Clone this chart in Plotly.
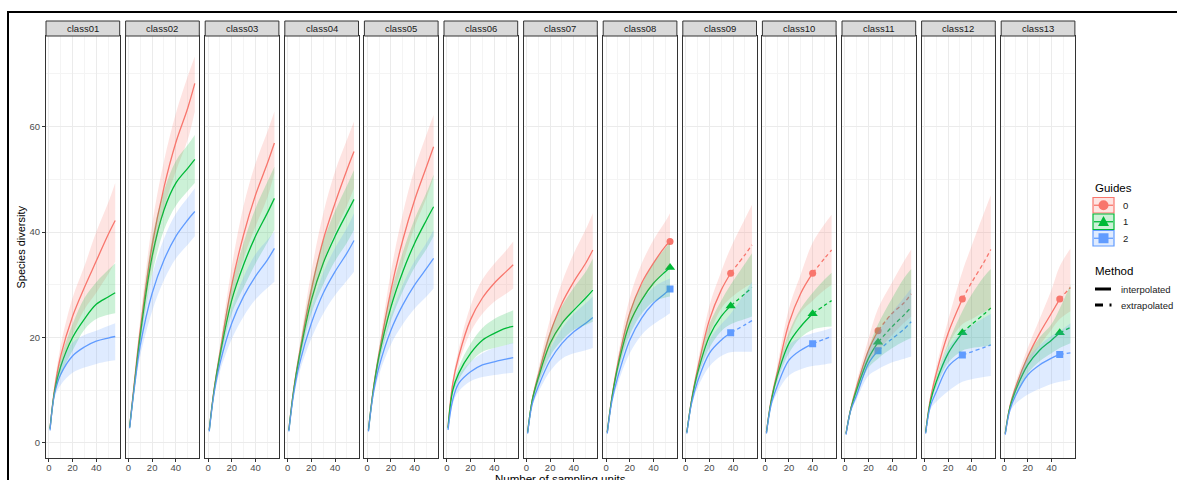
import plotly.graph_objects as go

# ---------------- data ----------------
classes = ["class01", "class02", "class03", "class04", "class05", "class06", "class07",
           "class08", "class09", "class10", "class11", "class12", "class13"]

# reference sample size (observed point); None = no point drawn
obs_T = [None, None, None, None, None, None, None, 54, 38, 40, 28, 32, 47]

# sampling-unit positions where values were read for each class
x_pts = [
    [1, 5, 10, 20, 30, 40, 50, 56],
    [1, 5, 10, 20, 30, 40, 50, 56],
    [1, 5, 10, 20, 30, 40, 50, 56],
    [1, 5, 10, 20, 30, 40, 50, 56],
    [1, 5, 10, 20, 30, 40, 50, 56],
    [1, 5, 10, 20, 30, 40, 50, 56],
    [1, 5, 10, 20, 30, 40, 50, 56],
    [1, 5, 10, 20, 30, 40, 50, 54],
    [1, 5, 10, 20, 30, 38, 50, 56],
    [1, 5, 10, 20, 30, 40, 50, 56],
    [1, 5, 10, 20, 28, 40, 50, 56],
    [1, 5, 10, 20, 32, 40, 50, 56],
    [1, 5, 10, 20, 30, 40, 47, 56],
]

# Guides = 0 (red)
q0_mid = [
    [2.8, 10.5, 16.5, 24.0, 29.5, 34.5, 39.5, 42.2],
    [3.0, 11.5, 21.5, 37.5, 48.5, 57.0, 63.5, 68.2],
    [2.5, 10.0, 17.0, 30.0, 39.5, 47.0, 53.0, 56.9],
    [2.5, 10.0, 17.0, 29.0, 38.5, 45.5, 51.8, 55.3],
    [2.5, 10.0, 17.0, 29.0, 38.5, 46.1, 52.4, 56.2],
    [3.0, 11.3, 16.4, 23.4, 27.5, 30.3, 32.5, 33.8],
    [2.0, 8.3, 12.8, 20.8, 26.5, 30.6, 34.1, 36.6],
    [2.0, 8.8, 15.1, 24.6, 30.3, 34.1, 37.3, 38.2],
    [2.0, 8.2, 13.9, 23.3, 29.0, 32.2, 35.7, 37.6],
    [2.0, 8.2, 13.2, 22.7, 28.4, 32.2, 35.0, 36.6],
    [1.8, 6.5, 10.7, 17.6, 21.3, 24.6, 26.6, 28.3],
    [2.0, 8.3, 13.2, 20.8, 27.3, 30.5, 34.2, 36.7],
    [1.8, 7.0, 10.7, 16.4, 20.8, 24.6, 27.3, 29.5],
]
q0_lo = [
    [2.5, 9.5, 14.5, 20.5, 25.3, 28.5, 32.0, 34.4],
    [2.7, 10.5, 19.5, 34.0, 44.5, 51.5, 57.5, 62.9],
    [2.2, 9.3, 15.8, 27.0, 35.0, 41.0, 46.5, 51.2],
    [2.2, 9.3, 15.8, 26.0, 34.0, 40.0, 45.0, 48.3],
    [2.2, 9.3, 15.8, 26.0, 34.0, 41.0, 46.5, 50.5],
    [2.7, 10.5, 15.0, 21.0, 24.5, 26.8, 28.3, 29.3],
    [1.7, 7.8, 11.5, 18.0, 22.5, 25.5, 27.8, 29.3],
    [1.7, 8.3, 13.8, 21.8, 27.0, 30.0, 32.8, 33.8],
    [1.7, 7.7, 12.7, 20.5, 25.5, 27.5, 29.5, 30.3],
    [1.7, 7.7, 12.0, 20.0, 24.8, 27.0, 29.0, 30.0],
    [1.5, 6.0, 9.8, 15.5, 17.5, 20.5, 22.8, 24.0],
    [1.7, 7.8, 12.0, 18.5, 22.5, 23.5, 24.8, 25.5],
    [1.5, 6.5, 9.8, 14.8, 18.5, 21.5, 23.5, 25.0],
]
q0_hi = [
    [3.1, 11.5, 18.5, 27.5, 33.5, 40.0, 45.5, 49.3],
    [3.3, 12.5, 23.5, 41.5, 53.5, 62.5, 69.5, 73.3],
    [2.8, 10.8, 18.3, 33.5, 45.0, 53.0, 59.0, 62.9],
    [2.8, 10.8, 18.3, 32.5, 43.5, 51.5, 57.5, 61.0],
    [2.8, 10.8, 18.3, 32.5, 43.5, 52.0, 58.5, 62.2],
    [3.3, 12.1, 17.8, 26.0, 31.0, 34.0, 36.5, 38.2],
    [2.3, 8.8, 14.0, 23.5, 30.5, 36.0, 40.5, 43.6],
    [2.3, 9.3, 16.4, 27.5, 34.0, 38.5, 42.0, 43.6],
    [2.3, 8.7, 15.1, 26.0, 32.5, 37.0, 42.5, 45.2],
    [2.3, 8.7, 14.4, 25.5, 32.0, 38.0, 41.5, 43.3],
    [2.1, 7.0, 11.6, 19.8, 25.5, 30.5, 34.5, 36.7],
    [2.3, 8.8, 14.4, 23.3, 32.5, 37.5, 43.5, 47.0],
    [2.1, 7.5, 11.6, 18.0, 23.5, 29.0, 33.5, 36.9],
]

# Guides = 1 (green)
q1_mid = [
    [2.7, 10.0, 14.5, 20.0, 23.5, 26.3, 27.7, 28.5],
    [3.0, 11.0, 20.5, 35.4, 44.2, 49.3, 52.1, 53.8],
    [2.4, 9.8, 16.5, 27.1, 33.8, 39.2, 43.6, 46.4],
    [2.4, 9.8, 16.5, 27.1, 34.1, 39.2, 43.6, 46.2],
    [2.4, 9.8, 16.5, 25.8, 32.5, 37.9, 42.3, 44.8],
    [2.8, 10.0, 13.2, 17.0, 19.5, 20.8, 21.8, 22.1],
    [2.0, 8.2, 12.3, 18.9, 22.7, 25.2, 27.5, 29.0],
    [2.0, 8.6, 14.5, 22.7, 27.1, 30.3, 32.5, 33.3],
    [2.0, 8.0, 13.2, 20.2, 24.0, 26.0, 28.3, 29.5],
    [2.0, 7.9, 12.6, 18.9, 22.1, 24.5, 26.1, 27.0],
    [1.8, 6.4, 10.1, 16.1, 19.1, 22.1, 24.3, 25.7],
    [2.0, 7.8, 11.6, 17.0, 20.9, 22.5, 24.4, 25.6],
    [1.8, 6.8, 10.1, 14.8, 17.6, 19.5, 20.9, 21.9],
]
q1_lo = [
    [2.4, 9.2, 13.0, 17.5, 21.5, 23.5, 24.3, 24.6],
    [2.7, 10.2, 18.8, 32.0, 40.4, 45.0, 47.8, 49.3],
    [2.1, 9.1, 15.2, 24.5, 29.5, 34.0, 38.0, 40.4],
    [2.1, 9.1, 15.2, 24.5, 30.0, 34.5, 38.0, 40.4],
    [2.1, 9.2, 15.2, 23.2, 28.8, 33.3, 36.8, 39.2],
    [2.5, 9.2, 12.0, 15.3, 17.3, 18.0, 18.6, 18.9],
    [1.7, 7.7, 11.2, 16.5, 19.5, 21.5, 22.4, 23.0],
    [1.7, 8.1, 13.4, 20.5, 24.5, 26.8, 27.6, 27.8],
    [1.7, 7.5, 12.2, 18.0, 21.2, 22.5, 23.5, 24.0],
    [1.7, 7.4, 11.6, 17.0, 20.0, 21.5, 22.0, 22.1],
    [1.5, 5.9, 9.2, 14.3, 16.0, 18.0, 19.3, 19.9],
    [1.7, 7.3, 10.6, 15.2, 17.5, 18.0, 18.3, 18.5],
    [1.5, 6.3, 9.2, 13.2, 15.5, 17.0, 18.0, 18.9],
]
q1_hi = [
    [3.0, 10.8, 16.0, 22.5, 27.5, 30.5, 32.8, 34.1],
    [3.3, 11.8, 22.2, 38.8, 47.8, 53.5, 56.5, 58.4],
    [2.7, 10.5, 17.8, 30.0, 38.0, 44.5, 49.5, 52.4],
    [2.7, 10.5, 17.8, 30.0, 38.2, 44.0, 48.8, 51.8],
    [2.7, 10.8, 17.8, 28.5, 36.2, 42.5, 47.5, 50.9],
    [3.1, 10.8, 14.4, 18.8, 21.8, 23.5, 24.6, 25.2],
    [2.3, 8.7, 13.4, 21.3, 26.0, 29.5, 32.5, 35.0],
    [2.3, 9.1, 15.6, 25.0, 30.0, 34.0, 37.0, 38.0],
    [2.3, 8.5, 14.2, 22.5, 27.0, 30.0, 34.0, 36.0],
    [2.3, 8.4, 13.6, 21.0, 25.5, 28.5, 31.0, 32.3],
    [2.1, 6.9, 11.0, 18.0, 22.5, 27.5, 31.3, 33.0],
    [2.3, 8.3, 12.6, 19.0, 25.0, 28.2, 31.5, 33.0],
    [2.1, 7.3, 11.0, 16.5, 20.0, 22.5, 25.5, 30.0],
]

# Guides = 2 (blue)
q2_mid = [
    [2.4, 9.5, 13.0, 16.5, 18.2, 19.3, 19.9, 20.2],
    [2.8, 10.5, 18.5, 28.4, 34.7, 39.2, 42.3, 43.9],
    [2.2, 9.3, 15.0, 22.7, 27.8, 31.6, 34.7, 36.9],
    [2.2, 9.2, 15.0, 22.7, 28.4, 32.5, 36.0, 38.4],
    [2.2, 9.2, 14.5, 21.4, 26.2, 30.0, 33.1, 35.0],
    [2.5, 8.2, 11.3, 13.5, 14.8, 15.4, 15.9, 16.2],
    [1.8, 7.5, 10.7, 15.7, 18.9, 21.1, 22.7, 23.8],
    [1.8, 8.0, 12.6, 19.5, 23.7, 26.5, 28.4, 29.2],
    [1.8, 7.5, 11.6, 17.0, 19.5, 20.9, 22.4, 23.2],
    [1.8, 7.3, 10.7, 15.7, 17.6, 18.8, 19.7, 20.2],
    [1.6, 6.2, 9.1, 15.1, 17.5, 19.8, 21.6, 23.0],
    [1.8, 7.0, 9.7, 14.5, 16.7, 17.3, 18.1, 18.6],
    [1.6, 6.3, 9.1, 12.9, 14.8, 16.1, 16.8, 17.1],
]
q2_lo = [
    [2.1, 8.7, 11.0, 13.3, 14.3, 15.0, 15.5, 15.7],
    [2.5, 9.7, 16.5, 25.0, 30.9, 35.0, 37.6, 39.2],
    [1.9, 8.6, 13.5, 19.7, 24.0, 27.2, 29.4, 30.6],
    [1.9, 8.5, 13.5, 19.8, 24.5, 28.0, 30.8, 32.5],
    [1.9, 8.5, 13.0, 18.7, 22.5, 25.5, 27.8, 29.3],
    [2.2, 7.4, 9.8, 11.7, 12.5, 12.9, 13.2, 13.3],
    [1.5, 7.0, 9.6, 13.6, 16.0, 17.0, 17.6, 18.0],
    [1.5, 7.5, 11.3, 17.0, 20.5, 22.5, 24.0, 24.6],
    [1.5, 7.0, 10.4, 14.5, 16.5, 17.2, 17.3, 17.3],
    [1.5, 6.8, 9.5, 12.8, 14.0, 14.6, 14.9, 15.1],
    [1.3, 5.8, 8.3, 12.8, 14.0, 15.3, 16.0, 16.4],
    [1.5, 6.3, 7.8, 9.8, 11.6, 12.1, 12.5, 12.7],
    [1.3, 5.8, 7.5, 9.2, 10.3, 11.2, 11.6, 12.0],
]
q2_hi = [
    [2.7, 10.3, 14.8, 19.0, 20.5, 21.3, 22.2, 22.7],
    [3.1, 11.3, 20.5, 31.8, 38.8, 43.5, 46.5, 48.3],
    [2.5, 10.0, 16.5, 25.5, 31.5, 35.8, 38.5, 40.1],
    [2.5, 9.9, 16.5, 25.6, 32.3, 37.0, 40.8, 43.6],
    [2.5, 9.9, 16.0, 24.2, 30.0, 34.5, 38.0, 40.4],
    [2.8, 9.0, 12.8, 15.4, 17.0, 18.0, 18.6, 19.0],
    [2.1, 8.0, 11.8, 17.8, 21.7, 24.5, 26.5, 27.8],
    [2.1, 8.5, 13.9, 22.0, 26.8, 29.5, 30.8, 31.2],
    [2.1, 8.0, 12.8, 19.5, 22.5, 24.5, 28.5, 30.6],
    [2.1, 7.8, 11.9, 18.5, 20.0, 20.8, 21.4, 21.8],
    [1.9, 6.6, 9.9, 17.5, 21.0, 24.8, 27.6, 29.3],
    [2.1, 7.6, 11.4, 18.0, 21.0, 22.3, 23.7, 24.5],
    [1.9, 6.8, 10.5, 16.0, 18.5, 20.3, 21.2, 22.7],
]

guide_names = ["0", "1", "2"]
x_ticks = [0, 20, 40]
y_ticks = [0, 20, 40, 60]

# ---------------- styling ----------------
W, H = 1177, 480
colors = ["#F8766D", "#00BA38", "#619CFF"]
fills = ["rgba(248,118,109,0.2)", "rgba(0,186,56,0.2)", "rgba(97,156,255,0.2)"]
symbols = ["circle", "triangle-up", "square"]
msizes = [7, 9, 7]
FONT = "Liberation Sans, Arial, sans-serif"

panel_left0, panel_step, panel_w = 46.0, 79.6, 73.7
panel_top, panel_bot = 36.0, 458.0
strip_top = 21.0

series = [(q0_mid, q0_lo, q0_hi), (q1_mid, q1_lo, q1_hi), (q2_mid, q2_lo, q2_hi)]


def px(x):
    return x / W


def py(y):
    return 1 - y / H


fig = go.Figure()
layout = dict(
    width=W, height=H,
    margin=dict(l=0, r=0, t=0, b=0),
    paper_bgcolor="white", plot_bgcolor="rgba(0,0,0,0)",
    showlegend=False,
    font=dict(family=FONT, color="#1A1A1A"),
)
shapes, annotations = [], []

for i, cname in enumerate(classes):
    k = "" if i == 0 else str(i + 1)
    xa, ya = "x" + k, "y" + k
    xs = x_pts[i]
    T = obs_T[i]
    # lines first (ribbons are layered above, as in the original)
    for s, (mid, lo, hi) in enumerate(series):
        ys = mid[i]
        if T is None:
            ints = list(range(len(xs)))
            exts = []
        else:
            ints = [j for j, v in enumerate(xs) if v <= T]
            exts = [j for j, v in enumerate(xs) if v >= T]
        fig.add_trace(go.Scatter(
            x=[xs[j] for j in ints], y=[ys[j] for j in ints], mode="lines",
            line=dict(color=colors[s], width=1.3, shape="spline"),
            xaxis=xa, yaxis=ya, hoverinfo="skip"))
        if len(exts) > 1:
            fig.add_trace(go.Scatter(
                x=[xs[j] for j in exts], y=[ys[j] for j in exts], mode="lines",
                line=dict(color=colors[s], width=1.3, dash="4px,3px", shape="spline"),
                xaxis=xa, yaxis=ya, hoverinfo="skip"))
        if T is not None:
            jT = xs.index(T)
            fig.add_trace(go.Scatter(
                x=[xs[jT]], y=[ys[jT]], mode="markers",
                marker=dict(color=colors[s], symbol=symbols[s], size=msizes[s], line=dict(width=0)),
                xaxis=xa, yaxis=ya, hoverinfo="skip"))
    for s, (mid, lo, hi) in enumerate(series):
        fig.add_trace(go.Scatter(
            x=xs, y=lo[i], mode="lines", line=dict(width=0, shape="spline"),
            xaxis=xa, yaxis=ya, hoverinfo="skip"))
        fig.add_trace(go.Scatter(
            x=xs, y=hi[i], mode="lines", line=dict(width=0, shape="spline"),
            fill="tonexty", fillcolor=fills[s],
            xaxis=xa, yaxis=ya, hoverinfo="skip"))

    left = panel_left0 + panel_step * i
    right = left + panel_w
    layout["xaxis" + k] = dict(
        domain=[px(left), px(right)], anchor=ya, range=[-2.4, 59.8],
        tickvals=x_ticks, ticks="outside", ticklen=3, tickwidth=1, tickcolor="#333333",
        ticklabelstandoff=-2,
        tickfont=dict(size=9.5, color="#4D4D4D", family=FONT),
        showgrid=True, gridcolor="#EBEBEB", gridwidth=1, zeroline=False,
        minor=dict(tickvals=[10, 30, 50], showgrid=True, gridcolor="#F4F4F4", gridwidth=0.6, ticks=""),
        showline=True, mirror=True, linecolor="#333333", linewidth=1,
        automargin=False, fixedrange=True)
    layout["yaxis" + k] = dict(
        domain=[py(panel_bot), py(panel_top)], anchor=xa, range=[-2.85, 77.2],
        tickvals=y_ticks, ticks="outside" if i == 0 else "", ticklen=3, tickwidth=1,
        tickcolor="#333333", showticklabels=(i == 0),
        tickfont=dict(size=9.5, color="#4D4D4D", family=FONT),
        showgrid=True, gridcolor="#EBEBEB", gridwidth=1, zeroline=False,
        minor=dict(tickvals=[10, 30, 50, 70], showgrid=True, gridcolor="#F4F4F4", gridwidth=0.6, ticks=""),
        showline=True, mirror=True, linecolor="#333333", linewidth=1,
        automargin=False, fixedrange=True)
    shapes.append(dict(type="rect", xref=xa + " domain", yref="paper",
                       x0=0, x1=1, y0=py(panel_top), y1=py(strip_top),
                       fillcolor="#D9D9D9", line=dict(color="#333333", width=1), layer="above"))
    annotations.append(dict(text=cname, xref=xa + " domain", yref="paper",
                            x=0.5, y=py((panel_top + strip_top) / 2),
                            showarrow=False, xanchor="center", yanchor="middle",
                            font=dict(size=9.5, color="#1A1A1A", family=FONT)))

# outer black frame
shapes.append(dict(type="rect", xref="paper", yref="paper",
                   x0=px(8), x1=1.02, y0=-0.05, y1=py(12),
                   line=dict(color="black", width=2), fillcolor="rgba(0,0,0,0)"))

# axis titles
annotations.append(dict(text="Species diversity", xref="paper", yref="paper",
                        x=px(20.5), y=py(247), textangle=-90, showarrow=False,
                        xanchor="center", yanchor="middle",
                        font=dict(size=11, color="black", family=FONT)))
annotations.append(dict(text="Number of sampling units", xref="paper", yref="paper",
                        x=px(560), y=py(471), showarrow=False,
                        xanchor="center", yanchor="top",
                        font=dict(size=11.5, color="black", family=FONT)))

# legend: Guides (drawn with shapes)
lx0, lx1 = 1093, 1114
annotations.append(dict(text="Guides", xref="paper", yref="paper", x=px(lx0), y=py(188),
                        showarrow=False, xanchor="left", yanchor="middle",
                        font=dict(size=11.5, color="black", family=FONT)))
key_rows = [(197.5, 213.0), (214.0, 229.5), (230.5, 246.0)]
for s, (t0, t1) in enumerate(key_rows):
    shapes.append(dict(type="rect", xref="paper", yref="paper",
                       x0=px(lx0), x1=px(lx1), y0=py(t1), y1=py(t0),
                       fillcolor=fills[s], line=dict(color=colors[s], width=1.2)))
    cy = (t0 + t1) / 2
    cx = (lx0 + lx1) / 2
    shapes.append(dict(type="line", xref="paper", yref="paper",
                       x0=px(lx0 + 1), x1=px(lx1 - 1), y0=py(cy), y1=py(cy),
                       line=dict(color=colors[s], width=1.3)))
    r = 5.0
    if s == 0:
        shapes.append(dict(type="circle", xref="paper", yref="paper",
                           x0=px(cx - r), x1=px(cx + r), y0=py(cy + r), y1=py(cy - r),
                           fillcolor=colors[s], line=dict(width=0)))
    elif s == 1:
        path = "M %f %f L %f %f L %f %f Z" % (px(cx - r - 0.5), py(cy + r - 0.8),
                                             px(cx + r + 0.5), py(cy + r - 0.8),
                                             px(cx), py(cy - r - 0.8))
        shapes.append(dict(type="path", xref="paper", yref="paper", path=path,
                           fillcolor=colors[s], line=dict(width=0)))
    else:
        shapes.append(dict(type="rect", xref="paper", yref="paper",
                           x0=px(cx - r), x1=px(cx + r), y0=py(cy + r), y1=py(cy - r),
                           fillcolor=colors[s], line=dict(width=0)))
    annotations.append(dict(text=guide_names[s], xref="paper", yref="paper",
                            x=px(1121), y=py(cy), showarrow=False,
                            xanchor="left", yanchor="middle",
                            font=dict(size=9.5, color="#1A1A1A", family=FONT)))

# legend: Method
annotations.append(dict(text="Method", xref="paper", yref="paper", x=px(lx0), y=py(271),
                        showarrow=False, xanchor="left", yanchor="middle",
                        font=dict(size=11.5, color="black", family=FONT)))
shapes.append(dict(type="line", xref="paper", yref="paper", x0=px(1095), x1=px(1111),
                   y0=py(289), y1=py(289), line=dict(color="black", width=3)))
shapes.append(dict(type="line", xref="paper", yref="paper", x0=px(1095), x1=px(1103),
                   y0=py(305), y1=py(305), line=dict(color="black", width=3)))
shapes.append(dict(type="line", xref="paper", yref="paper", x0=px(1109.5), x1=px(1111.5),
                   y0=py(305), y1=py(305), line=dict(color="black", width=3)))
for cy, label in [(289, "interpolated"), (305, "extrapolated")]:
    annotations.append(dict(text=label, xref="paper", yref="paper",
                            x=px(1119), y=py(cy), showarrow=False,
                            xanchor="left", yanchor="middle",
                            font=dict(size=9.5, color="#1A1A1A", family=FONT)))

layout["shapes"] = shapes
layout["annotations"] = annotations
fig.update_layout(**layout)
fig.write_html("out.html", config={"displayModeBar": False},
               post_script="document.body.style.margin='0px';document.body.style.overflow='hidden';")
